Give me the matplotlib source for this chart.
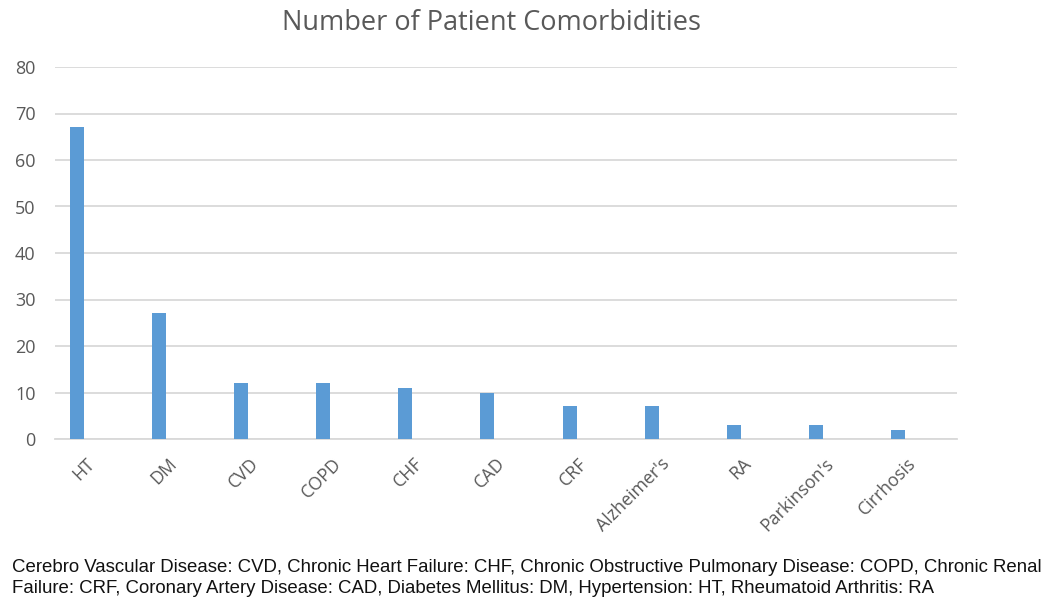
import matplotlib
matplotlib.use("Agg")
import matplotlib.pyplot as plt
from matplotlib.transforms import ScaledTranslation

categories = ["HT", "DM", "CVD", "COPD", "CHF", "CAD", "CRF", "Alzheimer's", "RA", "Parkinson's", "Cirrhosis"]
values = [67, 27, 12, 12, 11, 10, 7, 7, 3, 3, 2]
yticks = [0, 10, 20, 30, 40, 50, 60, 70, 80]
title = "Number of Patient Comorbidities"
footnote = ("Cerebro Vascular Disease: CVD, Chronic Heart Failure: CHF, Chronic Obstructive Pulmonary Disease: COPD, Chronic Renal\n"
            "Failure: CRF, Coronary Artery Disease: CAD, Diabetes Mellitus: DM, Hypertension: HT, Rheumatoid Arthritis: RA")

W, H = 1061, 601
fig = plt.figure(figsize=(W / 100, H / 100), dpi=100)
ax = fig.add_axes([55 / W, 1 - 439 / H, (957 - 55) / W, (439 - 67) / H])

text_color = "#595959"
grid_color = "#D9D9D9"

x = list(range(len(categories)))
ax.bar(x, values, width=0.17, color="#5B9BD5", zorder=3)
ax.set_xlim(-0.268, 10.72)
ax.set_ylim(0, 80)
ax.set_yticks(yticks)
ax.yaxis.grid(True, color=grid_color, linewidth=1.3, zorder=0)
for s in ["top", "right", "left"]:
    ax.spines[s].set_visible(False)
ax.spines["bottom"].set_color(grid_color)
ax.spines["bottom"].set_linewidth(1.3)
ax.tick_params(axis="both", length=0, colors=text_color, labelsize=13)
ax.tick_params(axis="y", pad=14)
ax.set_xticks(x)
ax.set_xticklabels(categories, rotation=45, ha="right", va="center", rotation_mode="anchor",
                   family="Open Sans", fontsize=12.8, color=text_color)
offset = ScaledTranslation(15 / 100, -17 / 100, fig.dpi_scale_trans)
for lab in ax.get_xticklabels():
    lab.set_transform(lab.get_transform() + offset)
for lab in ax.get_yticklabels():
    lab.set_family("Open Sans")

fig.text(491 / W, 1 - 23 / H, title, ha="center", va="center", fontsize=19.5,
         family="Open Sans", color=text_color)
fig.text(12 / W, 1 - 578 / H, footnote, ha="left", va="center", fontsize=13.4,
         family="Liberation Sans", color="#111111", linespacing=1.3)

fig.savefig("out.png", dpi=100)
